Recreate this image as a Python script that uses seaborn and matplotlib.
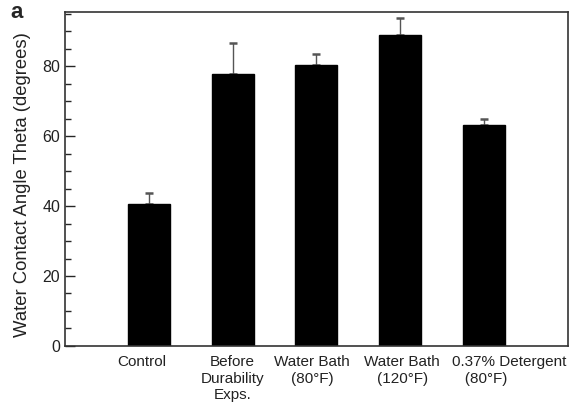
import matplotlib
matplotlib.use("Agg")
import matplotlib.pyplot as plt
import matplotlib.transforms as mtransforms
import seaborn as sns
import numpy as np
from matplotlib.ticker import MultipleLocator

categories = ["Control", "Before\nDurability\nExps.", "Water Bath\n(80°F)",
              "Water Bath\n(120°F)", "0.37% Detergent\n   (80°F)"]
values = [40.6, 77.7, 80.3, 88.9, 63.1]
errors = [3.2, 8.9, 3.1, 4.8, 1.8]

sns.set_style("ticks")
plt.rcParams['font.family'] = ['Liberation Sans', 'DejaVu Sans']

fig = plt.figure(figsize=(5.7, 4.05), dpi=100)
ax = fig.add_axes([0.114, 0.146, 0.882, 0.824])

sns.barplot(x=list(range(len(categories))), y=values, color="black",
            width=0.5, ax=ax, saturation=1, edgecolor="black", zorder=2)
ax.errorbar(np.arange(len(categories)), values,
            yerr=[np.zeros(len(errors)), errors], fmt="none",
            ecolor="#555555", elinewidth=1.0, capsize=3, capthick=1.8, zorder=1)

ax.set_xlim(-1, 5)
ax.set_ylim(0, 95.5)
ax.set_xticks(range(len(categories)))
ax.set_xticklabels([])
shifts = [-7, 0, -4, 2, 25]
for i, (lab, dx) in enumerate(zip(categories, shifts)):
    tr = ax.get_xaxis_transform() + mtransforms.ScaledTranslation(
        dx / 100, -9 / 100, fig.dpi_scale_trans)
    ax.text(i, 0, lab, transform=tr, ha="center", va="top", fontsize=11,
            linespacing=1.25, multialignment="left" if i == 4 else "center",
            color="#222222")
ax.yaxis.set_major_locator(MultipleLocator(20))
ax.yaxis.set_minor_locator(MultipleLocator(5))
ax.tick_params(axis="y", which="major", direction="in", length=7, width=1,
               labelsize=11.5, labelcolor="#222222")
ax.tick_params(axis="y", which="minor", direction="in", length=4, width=1)
ax.tick_params(axis="x", length=0)
for s in ax.spines.values():
    s.set_visible(True)
    s.set_linewidth(1.2)
    s.set_color("#333333")
ax.set_ylabel("Water Contact Angle Theta (degrees)", fontsize=13.3, color="#222222")
ax.yaxis.set_label_coords(-0.068, 0.483)
ax.set_xlabel("")
fig.text(0.018, 0.97, "a", fontsize=16, fontweight="bold", va="center")

fig.savefig("out.png", dpi=100)
